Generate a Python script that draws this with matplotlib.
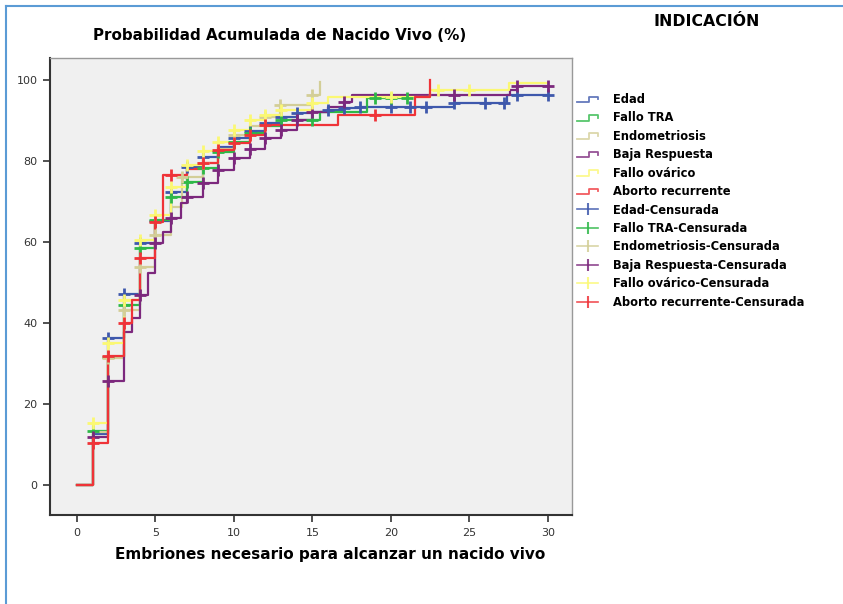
import numpy as np
import matplotlib.pyplot as plt
from matplotlib.lines import Line2D
from matplotlib.legend_handler import HandlerBase

# grupos de indicación y colores (paleta SPSS)
grupos = ['Edad', 'Fallo TRA', 'Endometriosis', 'Baja Respuesta', 'Fallo ovárico', 'Aborto recurrente']
colores = ['#3E58AC', '#2EB848', '#D3CE97', '#7C287D', '#FBF873', '#EF3338']

# tiempos de paso (embriones) y probabilidad acumulada (%) tras cada paso
edad_t = [0, 1, 2, 3, 4, 5, 6, 7, 8, 9, 10, 11, 12, 13, 14, 15, 16, 17, 18, 24, 27.4]
edad_v = [0, 12.5, 36.3, 47.2, 59.8, 65.2, 72.3, 78.5, 81, 83.5, 85.7, 87.4, 89.4, 90.8, 91.8, 92.1, 92.6, 93.1, 93.3, 94.3, 96.3]
edad_fin = 30
edad_cens = [2, 3, 4, 5, 6, 7, 8, 10, 11, 12, 13, 14, 16, 17, 18, 20, 21.2, 22.2, 24, 26, 27.2, 28, 30]

tra_t = [0, 1, 2, 3, 4, 5, 6, 7, 8, 9, 10, 11, 12, 13, 15.5, 18.5]
tra_v = [0, 13.3, 31.6, 44.4, 58.5, 65.4, 71.1, 74.8, 78.3, 82.2, 84.7, 86.9, 88.5, 90.1, 92.1, 95.6]
tra_fin = 21
tra_cens = [1, 2, 3, 4, 5, 6, 7, 8, 9, 10, 11, 13, 15, 19, 20, 21]

endo_t = [0, 1, 2, 3, 4, 5, 6, 6.7, 8, 9, 10, 11, 12, 12.9, 15, 15.5]
endo_v = [0, 13, 31.4, 43.2, 53.8, 61.7, 68.5, 76, 79.5, 83, 86.5, 88.7, 90.9, 93.8, 96.3, 99.5]
endo_fin = 15.5
endo_cens = [2, 3, 4, 5, 6.7, 8, 10, 12, 12.9, 15]

baja_t = [0, 1, 2, 3, 3.5, 4, 4.5, 5, 5.5, 6, 6.6, 7, 8, 9, 10, 11, 12, 13, 14, 15, 16, 17, 17.5, 27.6, 28]
baja_v = [0, 11.9, 25.7, 37.8, 41.2, 47, 52.3, 59.8, 62.5, 65.9, 69.6, 71.1, 74.6, 77.8, 80.7, 83, 85.7, 87.7, 90.1, 92.1, 93.3, 94.6, 96.3, 97.5, 98.5]
baja_fin = 30
baja_cens = [1, 2, 4, 5, 6, 7, 8, 9, 10, 11, 12, 13, 14, 15, 17, 24, 28, 30]

ovar_t = [0, 1, 2, 3, 4, 5, 6, 7, 8, 9, 10, 11, 12, 13, 15, 16, 22.5, 27.5]
ovar_v = [0, 15.3, 35, 45.7, 60.5, 66.7, 73.6, 79, 82.5, 84.7, 87.7, 90.1, 91.4, 92.6, 94.3, 95.8, 97.5, 99.3]
ovar_fin = 30
ovar_cens = [1, 2, 3, 4, 5, 6, 7, 8, 9, 10, 11, 12, 13, 15, 20, 23, 25]

aborto_t = [0, 1, 2, 3, 3.5, 4, 5, 5.5, 7, 8, 9, 10, 11, 12, 16.6, 21.5, 22.5]
aborto_v = [0, 10.4, 31.9, 40, 45.7, 56, 64.9, 76.5, 78, 79.5, 82.7, 84.5, 86.4, 88.9, 91.4, 95.8, 100]
aborto_fin = 22.5
aborto_cens = [1, 2, 3, 4, 5, 6, 8, 9, 10, 11, 12, 19]

series = [
    (edad_t, edad_v, edad_fin, edad_cens),
    (tra_t, tra_v, tra_fin, tra_cens),
    (endo_t, endo_v, endo_fin, endo_cens),
    (baja_t, baja_v, baja_fin, baja_cens),
    (ovar_t, ovar_v, ovar_fin, ovar_cens),
    (aborto_t, aborto_v, aborto_fin, aborto_cens),
]


class HandlerEscalon(HandlerBase):
    # icono de escalón para la leyenda
    def create_artists(self, legend, orig_handle, xdescent, ydescent, width, height, fontsize, trans):
        x0 = -xdescent
        y0 = -ydescent
        xs = np.array([0, 0.55, 0.55, 1.0, 1.0]) * width + x0
        ys = np.array([0.1, 0.1, 0.8, 0.8, 0.45]) * height + y0
        ln = Line2D(xs, ys, color=orig_handle.get_color(), lw=1.3, alpha=0.8)
        ln.set_transform(trans)
        return [ln]


fig = plt.figure(figsize=(8.43, 6.04), dpi=100)
ax = fig.add_axes([50 / 843, 89 / 604, 522 / 843, 457 / 604])
ax.set_facecolor('#f0f0f0')

for (t, v, fin, cens), c in zip(series, colores):
    ax.step(t + [fin], v + [v[-1]], where='post', color=c, lw=1.6, zorder=3)
    idx = np.searchsorted(t, cens, side='right') - 1
    ax.plot(cens, np.array(v)[idx], ls='none', marker='+', ms=8, mew=2, color=c, zorder=4)

ax.set_xlim(-1.72, 31.53)
ax.set_ylim(-7.4, 105.4)
ax.set_xticks(range(0, 31, 5))
ax.set_yticks(range(0, 101, 20))
ax.tick_params(direction='out', length=5, width=1.2, labelsize=8, colors='#333333', pad=4)
for s in ['left', 'bottom']:
    ax.spines[s].set_color('#333333')
    ax.spines[s].set_linewidth(1.5)
for s in ['top', 'right']:
    ax.spines[s].set_color('#999999')
    ax.spines[s].set_linewidth(1.0)

fig.text(280 / 843, 1 - 35 / 604, 'Probabilidad Acumulada de Nacido Vivo (%)',
         ha='center', va='center', fontsize=10.9, fontweight='bold')
fig.text(707 / 843, 1 - 22 / 604, 'INDICACIÓN', ha='center', va='center',
         fontsize=11.3, fontweight='bold')
fig.text(330 / 843, 1 - 555 / 604, 'Embriones necesario para alcanzar un nacido vivo',
         ha='center', va='center', fontsize=11, fontweight='bold')

# leyenda
handles = [Line2D([], [], color=c) for c in colores]
handles += [Line2D([0], [0], color=c, marker='|', ms=9, mew=1.5, lw=1.2, alpha=0.85) for c in colores]
labels = grupos + [g + '-Censurada' for g in grupos]
hmap = {h: HandlerEscalon() for h in handles[:6]}
fig.legend(handles, labels, handler_map=hmap, loc='upper left',
           bbox_to_anchor=(577 / 843, 1 - 93 / 604), frameon=False,
           prop={'size': 8.3, 'weight': 'bold'}, handlelength=1.85, handletextpad=1.25,
           labelspacing=0.47, borderaxespad=0, borderpad=0, numpoints=1)

# marco azul
fig.add_artist(Line2D([6 / 843, 6 / 843], [0, 1 - 6 / 604], transform=fig.transFigure,
                      color='#5b9bd5', lw=1.5))
fig.add_artist(Line2D([6 / 843, 1], [1 - 6 / 604, 1 - 6 / 604], transform=fig.transFigure,
                      color='#5b9bd5', lw=1.5))

fig.savefig('out.png', dpi=100)
